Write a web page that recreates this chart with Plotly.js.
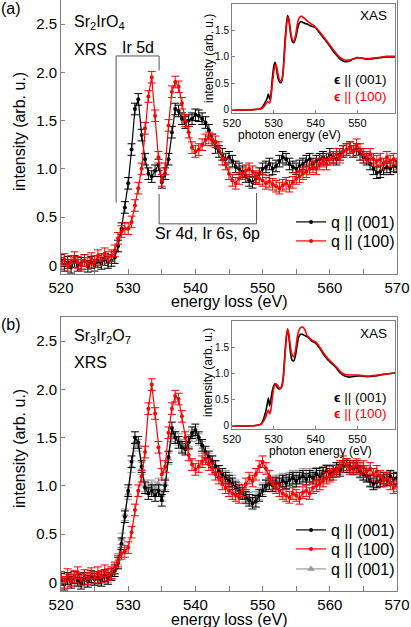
<!DOCTYPE html>
<html>
<head>
<meta charset="utf-8">
<script src="https://cdn.plot.ly/plotly-3.0.1.min.js"></script>
<style>
  body { margin: 0; background: #fff; }
  #chart { width: 411px; height: 627px; }
</style>
</head>
<body>
<div id="chart"></div>
<script>
// XRS energy loss grid (eV), 0.5 eV steps
const lossE = Array.from({ length: 101 }, (_, i) => 520 + i * 0.5);

// (a) Sr2IrO4 XRS
const a001 = [
  0.05, 0.0, 0.03, -0.02, 0.04, 0.0, 0.02, 0.05, -0.01, 0.03, 0.0, 0.04, 0.02, 0.06, 0.03,
  0.05, 0.08, 0.2, 0.38, 0.6, 0.85, 1.2, 1.62, 1.72, 1.35,
  1.1, 0.95, 0.92, 0.98, 1.04, 0.86, 0.95, 1.1, 1.38, 1.62,
  1.6, 1.52, 1.48, 1.5, 1.52, 1.56, 1.55, 1.52, 1.48, 1.4,
  1.3, 1.22, 1.18, 1.15, 1.1, 1.12, 1.08, 1.02, 1.0, 0.97,
  0.92, 0.88, 0.86, 0.9, 0.95, 1.0, 1.02, 1.05, 1.0, 1.03,
  1.08, 1.12, 1.1, 1.05, 1.02, 1.0, 1.03, 1.05, 1.08, 1.1,
  1.05, 1.08, 1.1, 1.12, 1.1, 1.15, 1.12, 1.1, 1.15, 1.18,
  1.2, 1.22, 1.18, 1.2, 1.15, 1.12, 1.1, 1.05, 1.0, 0.96,
  0.97, 1.0, 1.02, 1.0, 1.03, 1.02
];
const a100 = [
  0.02, 0.06, 0.0, 0.04, 0.08, 0.03, 0.0, 0.05, 0.02, 0.07, 0.04, 0.1, 0.06, 0.12, 0.08,
  0.1, 0.15, 0.28, 0.35, 0.38, 0.38, 0.45, 0.62, 0.8, 1.0,
  1.42, 1.75, 1.95, 1.55, 1.12, 0.88, 1.0, 1.45, 1.8, 1.9,
  1.85, 1.68, 1.5, 1.38, 1.22, 1.18, 1.2, 1.25, 1.3, 1.32,
  1.3, 1.28, 1.22, 1.1, 1.05, 0.95, 0.88, 0.85, 0.9, 0.95,
  0.98, 1.0, 0.97, 0.92, 0.9, 0.88, 0.85, 0.87, 0.84, 0.82,
  0.8, 0.83, 0.85, 0.82, 0.86, 0.9, 0.92, 0.95, 0.97, 1.0,
  1.02, 1.0, 1.05, 1.08, 1.05, 1.1, 1.12, 1.15, 1.12, 1.18,
  1.2, 1.22, 1.18, 1.25, 1.2, 1.15, 1.12, 1.15, 1.1, 1.08,
  1.1, 1.05, 1.12, 1.08, 1.1, 1.05
];

// (b) Sr3Ir2O7 XRS
const b001 = [
  0.03, -0.02, 0.04, 0.0, 0.05, 0.02, -0.01, 0.04, 0.01, 0.06, 0.03, 0.05, 0.02, 0.07, 0.04,
  0.08, 0.12, 0.2, 0.4, 0.68, 0.95, 1.25, 1.5, 1.45, 1.2,
  0.98, 0.92, 0.95, 0.9, 0.95, 0.85, 1.0, 1.3, 1.6, 1.5,
  1.45, 1.4, 1.38, 1.45, 1.55, 1.58, 1.5, 1.42, 1.35, 1.3,
  1.25, 1.2, 1.15, 1.12, 1.08, 1.05, 1.02, 0.98, 0.95, 0.92,
  0.88, 0.85, 0.82, 0.84, 0.9, 0.95, 1.0, 1.02, 1.0, 1.03,
  1.02, 1.05, 1.03, 1.06, 1.08, 1.05, 1.08, 1.1, 1.07, 1.1,
  1.08, 1.12, 1.1, 1.13, 1.15, 1.12, 1.15, 1.18, 1.16, 1.2,
  1.22, 1.2, 1.18, 1.2, 1.15, 1.12, 1.1, 1.05, 1.02, 1.04,
  1.05, 1.08, 1.06, 1.1, 1.07, 1.08
];
const b100 = [
  0.05, 0.0, 0.08, 0.02, 0.06, 0.1, 0.03, 0.07, 0.04, 0.09, 0.05, 0.1, 0.06, 0.12, 0.08,
  0.1, 0.15, 0.22, 0.3, 0.32, 0.36, 0.52, 0.75, 0.95, 1.1,
  1.35, 1.8, 2.05, 1.75, 1.4, 1.12, 1.2, 1.55, 1.8, 1.93,
  1.9, 1.72, 1.5, 1.32, 1.22, 1.17, 1.2, 1.25, 1.28, 1.22,
  1.18, 1.12, 1.08, 1.02, 0.98, 0.95, 0.92, 0.9, 0.88, 0.95,
  1.02, 1.08, 1.05, 1.12, 1.2, 1.25, 1.18, 1.1, 1.02, 0.98,
  0.95, 0.92, 0.9, 0.88, 0.92, 0.9, 0.87, 0.93, 0.95, 0.92,
  0.98, 1.0, 1.02, 1.05, 1.08, 1.1, 1.12, 1.15, 1.2, 1.25,
  1.22, 1.18, 1.2, 1.22, 1.18, 1.2, 1.15, 1.18, 1.12, 1.15,
  1.1, 1.05, 1.08, 1.02, 0.98, 1.0
];
const b001gray = [
  0.05, 0.0, 0.02, 0.03, 0.03, 0.04, 0.01, 0.02, 0.03, 0.04, 0.05, 0.03, 0.04, 0.05, 0.06,
  0.09, 0.14, 0.24, 0.45, 0.7, 0.92, 1.2, 1.45, 1.42, 1.18,
  1.0, 0.97, 1.0, 0.98, 1.02, 0.9, 1.02, 1.28, 1.52, 1.5,
  1.48, 1.42, 1.4, 1.47, 1.52, 1.55, 1.48, 1.4, 1.33, 1.28,
  1.25, 1.2, 1.15, 1.1, 1.1, 1.08, 1.05, 1.0, 0.97, 0.93,
  0.9, 0.87, 0.85, 0.88, 0.92, 0.97, 1.0, 1.03, 1.02, 1.05,
  1.05, 1.07, 1.05, 1.08, 1.1, 1.08, 1.1, 1.12, 1.1, 1.12,
  1.1, 1.13, 1.12, 1.14, 1.16, 1.14, 1.16, 1.18, 1.18, 1.2,
  1.2, 1.18, 1.17, 1.18, 1.14, 1.12, 1.1, 1.06, 1.04, 1.05,
  1.06, 1.08, 1.07, 1.09, 1.07, 1.08
];

// XAS insets (photon energy, eV)
const xasE = [
  520, 522, 524, 526, 527, 527.5, 528, 528.4, 528.7, 529.0,
  529.3, 529.6, 530.0, 530.3, 530.6, 531.0, 531.4, 531.8, 532.2, 532.6,
  533.0, 533.3, 533.6, 534.0, 534.4, 534.8, 535.2, 535.6, 536.0, 536.5,
  537, 537.5, 538, 538.5, 539, 539.5, 540, 541, 542, 543,
  544, 545, 546, 547, 548, 549, 550, 551, 552, 553,
  554, 555, 556, 557, 558, 559
];
const xasA001 = [
  0, 0, 0, 0.01, 0.03, 0.08, 0.15, 0.22, 0.3, 0.2,
  0.28, 0.55, 0.82, 0.9, 0.8, 0.6, 0.52, 0.52, 0.7, 1.2,
  1.6, 1.78, 1.7, 1.45, 1.3, 1.27, 1.35, 1.5, 1.62, 1.67,
  1.65, 1.63, 1.62, 1.6, 1.58, 1.57, 1.55, 1.45, 1.35, 1.25,
  1.13, 1.03, 0.95, 0.91, 0.92, 0.96, 0.99, 0.98, 0.96, 0.96,
  0.97, 0.98, 0.99, 1.0, 1.0, 1.0
];
const xasA100 = [
  0, 0, 0, 0.01, 0.02, 0.05, 0.1, 0.15, 0.15, 0.13,
  0.22, 0.45, 0.72, 0.84, 0.84, 0.68, 0.56, 0.55, 0.68, 1.1,
  1.55, 1.75, 1.72, 1.5, 1.33, 1.3, 1.4, 1.6, 1.73, 1.77,
  1.75, 1.72, 1.68, 1.65, 1.62, 1.6, 1.56, 1.47, 1.37, 1.27,
  1.16, 1.06, 0.98, 0.94, 0.94, 0.96, 0.98, 0.98, 0.97, 0.97,
  0.98, 0.99, 1.0, 1.01, 1.01, 1.01
];
const xasB001 = [
  0, 0, 0, 0.01, 0.04, 0.12, 0.25, 0.4, 0.53, 0.38,
  0.5, 0.65, 0.77, 0.8, 0.76, 0.72, 0.7, 0.74, 0.88, 1.3,
  1.7, 1.83, 1.7, 1.4, 1.25, 1.24, 1.35, 1.55, 1.7, 1.75,
  1.74, 1.72, 1.7, 1.67, 1.62, 1.6, 1.58, 1.48, 1.35, 1.25,
  1.18, 1.1, 1.0, 0.95, 0.93, 0.94, 0.95, 0.95, 0.94, 0.94,
  0.95, 0.96, 0.98, 0.99, 1.0, 1.01
];
const xasB100 = [
  0, 0, 0, 0.01, 0.03, 0.08, 0.16, 0.25, 0.3, 0.23,
  0.3, 0.5, 0.72, 0.8, 0.8, 0.76, 0.72, 0.73, 0.85, 1.25,
  1.68, 1.85, 1.75, 1.5, 1.35, 1.32, 1.45, 1.68, 1.82, 1.88,
  1.88, 1.82, 1.72, 1.68, 1.64, 1.62, 1.6, 1.5, 1.38, 1.28,
  1.2, 1.12, 1.03, 0.98, 0.97, 0.97, 0.97, 0.96, 0.95, 0.95,
  0.96, 0.97, 0.98, 0.99, 1.0, 1.01
];

// tick labels
const mainYVals = [0, 0.5, 1, 1.5, 2, 2.5];
const mainYText = ['0', '0.5', '1.0', '1.5', '2.0', '2.5'];
const insetYVals = [0, 0.5, 1, 1.5];
const insetYText = ['0', '0.5', '1.0', '1.5'];
const insetXVals = [520, 530, 540, 550];

const FONT = 'Arial, "Liberation Sans", sans-serif';
const W = 411, H = 627;
const px = v => v / W;
const py = v => 1 - v / H;

function xrs(y, name, color, xa, ya, leg, symbol) {
  return {
    x: lossE, y: y, xaxis: xa, yaxis: ya, name: name,
    type: 'scatter', mode: 'lines+markers',
    line: { color: color, width: 1.2 },
    marker: { color: color, size: symbol === 'triangle-up' ? 7 : 4, symbol: symbol },
    error_y: { type: 'constant', value: 0.06, color: color, thickness: 1, width: 4 },
    legend: leg
  };
}
function xas(y, color, xa, ya) {
  return {
    x: xasE, y: y, xaxis: xa, yaxis: ya, type: 'scatter', mode: 'lines',
    line: { color: color, width: 1.6, shape: 'spline', smoothing: 0.6 },
    showlegend: false, hoverinfo: 'skip'
  };
}

const traces = [
  xrs(a001, 'q || (001)', '#000000', 'x', 'y', 'legend', 'circle'),
  xrs(a100, 'q || (100)', '#ff0000', 'x', 'y', 'legend2', 'circle'),
  xas(xasA001, '#000000', 'x2', 'y2'),
  xas(xasA100, '#ff0000', 'x2', 'y2'),
  xrs(b001gray, 'q || (001)', '#9a9a9a', 'x3', 'y3', 'legend5', 'triangle-up'),
  xrs(b001, 'q || (001)', '#000000', 'x3', 'y3', 'legend3', 'circle'),
  xrs(b100, 'q || (100)', '#ff0000', 'x3', 'y3', 'legend4', 'circle'),
  xas(xasB001, '#000000', 'x4', 'y4'),
  xas(xasB100, '#ff0000', 'x4', 'y4')
];

const frame = { showline: true, mirror: true, linecolor: '#808080', linewidth: 1,
  showgrid: false, zeroline: false, ticks: 'inside', tickcolor: '#808080' };

function mainX(anchor) {
  return Object.assign({}, frame, {
    anchor: anchor, domain: [px(61), px(397)], range: [520, 570], dtick: 10, tick0: 520,
    ticklen: 5, tickfont: { size: 15, color: '#000' },
    minor: { dtick: 5, ticks: 'inside', ticklen: 5, tickcolor: '#808080' }
  });
}
function mainY(anchor, top, bottom) {
  return Object.assign({}, frame, {
    anchor: anchor, domain: [py(bottom), py(top)], range: [-0.09, 2.75],
    tickvals: mainYVals, ticktext: mainYText, ticklen: 4, tickfont: { size: 15, color: '#000' }
  });
}
function insetX(anchor) {
  return Object.assign({}, frame, {
    anchor: anchor, domain: [px(232), px(395)], range: [520, 559],
    tickvals: insetXVals, ticklen: 3, tickfont: { size: 11, color: '#000' }
  });
}
function insetY(anchor, top, bottom) {
  return Object.assign({}, frame, {
    anchor: anchor, domain: [py(bottom), py(top)], range: [-0.06, 2.0],
    tickvals: insetYVals, ticktext: insetYText, ticklen: 3, tickfont: { size: 10, color: '#000' }
  });
}

function txt(text, x, y, opts) {
  return Object.assign({
    text: text, xref: 'paper', yref: 'paper', x: px(x), y: py(y),
    xanchor: 'left', yanchor: 'middle', showarrow: false,
    font: { size: 16, color: '#000', family: FONT }
  }, opts || {});
}
const small = (c, s) => ({ size: s || 13.5, color: c || '#000', family: FONT });

const annotations = [
  txt('(a)', -1, 9),
  txt('(b)', -1, 324),
  txt('Sr<sub>2</sub>IrO<sub>4</sub>', 72, 22),
  txt('XRS', 72, 49),
  txt('Sr<sub>3</sub>Ir<sub>2</sub>O<sub>7</sub>', 72, 336),
  txt('XRS', 72, 362),
  txt('Ir 5d', 137.5, 48, { xanchor: 'center' }),
  txt('Sr 4d, Ir 6s, 6p', 207.5, 233, { xanchor: 'center' }),
  txt('energy loss (eV)', 229, 302, { xanchor: 'center' }),
  txt('energy loss (eV)', 229, 619.5, { xanchor: 'center' }),
  txt('intensity (arb. u.)', 19, 132, { xanchor: 'center', textangle: -90 }),
  txt('intensity (arb. u.)', 19, 449, { xanchor: 'center', textangle: -90 }),
  // insets
  txt('XAS', 389, 15, { xanchor: 'right', font: small() }),
  txt('XAS', 389, 333, { xanchor: 'right', font: small() }),
  txt('<b>ϵ</b> || (001)', 389, 80, { xanchor: 'right', font: small() }),
  txt('<b>ϵ</b> || (100)', 389, 97, { xanchor: 'right', font: small('#ff0000') }),
  txt('<b>ϵ</b> || (001)', 389, 397, { xanchor: 'right', font: small() }),
  txt('<b>ϵ</b> || (100)', 389, 413, { xanchor: 'right', font: small('#ff0000') }),
  txt('photon energy (eV)', 289, 135, { xanchor: 'center', font: small('#000', 12) }),
  txt('photon energy (eV)', 320, 451, { xanchor: 'center', font: small('#000', 12) }),
  txt('intensity (arb. u.)', 209, 59, { xanchor: 'center', textangle: -90, font: small('#000', 12) }),
  txt('intensity (arb. u.)', 208, 373, { xanchor: 'center', textangle: -90, font: small('#000', 12) })
];

// bracket guides in panel (a), data coordinates
const brk = { type: 'line', xref: 'x', yref: 'y', line: { color: '#555', width: 1 } };
const shapes = [
  Object.assign({ x0: 528.2, x1: 528.2, y0: 0.65, y1: 2.17 }, brk),
  Object.assign({ x0: 528.2, x1: 534.6, y0: 2.17, y1: 2.17 }, brk),
  Object.assign({ x0: 534.6, x1: 534.6, y0: 2.17, y1: 2.02 }, brk),
  Object.assign({ x0: 534.6, x1: 534.6, y0: 0.74, y1: 0.43 }, brk),
  Object.assign({ x0: 534.6, x1: 549.1, y0: 0.43, y1: 0.43 }, brk),
  Object.assign({ x0: 549.1, x1: 549.1, y0: 0.43, y1: 0.75 }, brk)
];

// one legend per row so the row spacing matches the figure
const legRow = rowY => ({ x: px(291), y: py(rowY), xanchor: 'left', yanchor: 'middle',
  bgcolor: 'rgba(0,0,0,0)', font: { size: 16, color: '#000', family: FONT }, itemwidth: 30 });

const layout = {
  width: W, height: H,
  margin: { l: 0, r: 0, t: 0, b: 0 },
  paper_bgcolor: '#fff', plot_bgcolor: '#fff',
  font: { family: FONT, color: '#000' },
  showlegend: true,
  xaxis: mainX('y'),
  yaxis: mainY('x', 0, 274),
  xaxis2: insetX('y2'),
  yaxis2: insetY('x2', 4, 113),
  xaxis3: mainX('y3'),
  yaxis3: mainY('x3', 317, 591),
  xaxis4: insetX('y4'),
  yaxis4: insetY('x4', 321, 429),
  legend: legRow(222),
  legend2: legRow(241),
  legend3: legRow(530),
  legend4: legRow(549),
  legend5: legRow(569),
  annotations: annotations,
  shapes: shapes
};

Plotly.newPlot('chart', traces, layout, { staticPlot: true });
</script>
</body>
</html>
